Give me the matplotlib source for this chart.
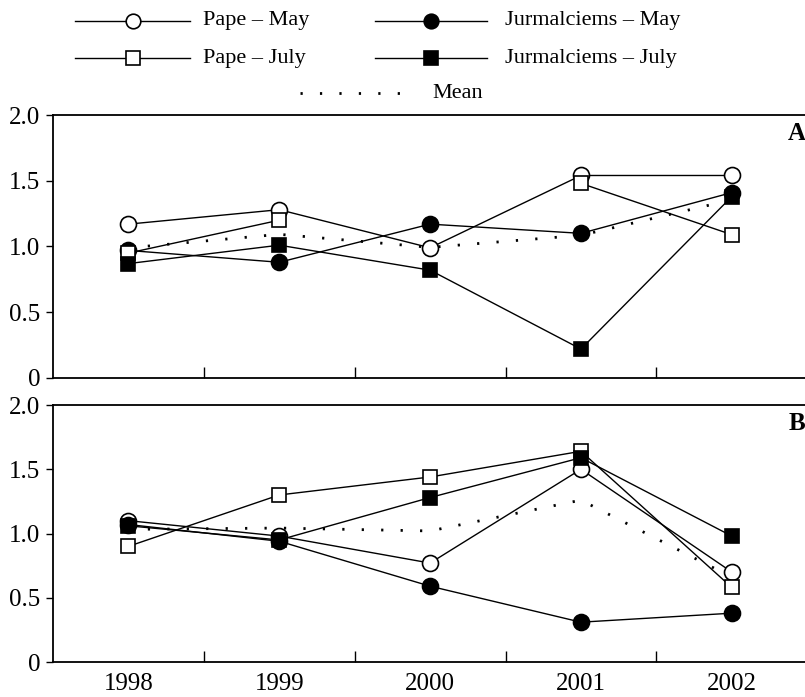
import numpy as np
import matplotlib.pyplot as plt

plt.rcParams['font.family'] = ['Liberation Serif', 'DejaVu Serif']

years = ['1998', '1999', '2000', '2001', '2002']

# panel A
pape_may_a = [1.17, 1.28, 0.99, 1.54, 1.54]
pape_july_a = [0.95, 1.20, np.nan, 1.48, 1.09]
jurm_may_a = [0.97, 0.88, 1.17, 1.10, 1.41]
jurm_july_a = [0.87, 1.01, 0.82, 0.22, 1.38]

# panel B
pape_may_b = [1.10, 0.98, 0.77, 1.50, 0.70]
pape_july_b = [0.90, 1.30, 1.44, 1.64, 0.58]
jurm_may_b = [1.07, 0.94, 0.59, 0.31, 0.38]
jurm_july_b = [1.06, 0.95, 1.28, 1.59, 0.98]

labels = ['Pape – May', 'Jurmalciems – May', 'Pape – July', 'Jurmalciems – July']
markers = ['o', 'o', 's', 's']
faces = ['white', 'black', 'white', 'black']
sizes = [11.5, 11.5, 10.5, 10.5]

mean_style = dict(color='black', lw=2.0, linestyle=(0, (0.8, 6.2)))

fig = plt.figure(figsize=(8.05, 6.97), dpi=100)

# hand-built legend in pixel coordinates
leg = fig.add_axes([0, 0, 1, 1])
leg.set_xlim(0, 805)
leg.set_ylim(697, 0)
leg.axis('off')
rows = [21, 58, 21, 58]
cols = [(75, 190, 203), (75, 190, 203), (375, 487, 505), (375, 487, 505)]
order = [0, 2, 1, 3]
for i in range(4):
    x0, x1, xt = cols[order[i]]
    y = rows[order[i]]
    leg.plot([x0, x1], [y, y], color='black', lw=1.0)
    leg.plot([(x0 + x1) / 2], [y], marker=markers[i], ms=sizes[i] - 1,
             mfc=faces[i], mec='black', mew=1.2, color='black')
    leg.text(xt, y, labels[i], fontsize=16, va='center', ha='left')
leg.plot([300, 400], [93, 93], **mean_style)
leg.text(432, 93, 'Mean', fontsize=16, va='center', ha='left')

ax_a = fig.add_axes([0.0658, 0.4577, 0.937, 0.3773])
ax_b = fig.add_axes([0.0658, 0.0502, 0.937, 0.3687])

panels = [
    (ax_a, [pape_may_a, jurm_may_a, pape_july_a, jurm_july_a], 'A'),
    (ax_b, [pape_may_b, jurm_may_b, pape_july_b, jurm_july_b], 'B'),
]

x = np.arange(len(years))
for ax, series, tag in panels:
    mean = np.nanmean(np.array(series, dtype=float), axis=0)
    ax.plot(x, mean, zorder=1, **mean_style)
    for i, vals in enumerate(series):
        ax.plot(x, vals, color='black', lw=1.0, marker=markers[i],
                ms=sizes[i], mfc=faces[i], mec='black', mew=1.2, zorder=2 + i)
    ax.set_xlim(-0.5, 4.5)
    ax.set_ylim(0, 2.0)
    ax.set_yticks([0, 0.5, 1.0, 1.5, 2.0])
    ax.set_yticklabels(['0', '0.5', '1.0', '1.5', '2.0'])
    ax.set_xticks(x)
    ax.set_xticks(x[:-1] + 0.5, minor=True)
    ax.tick_params(axis='x', which='major', length=0, labelsize=18, pad=8)
    ax.tick_params(axis='x', which='minor', direction='in', length=8, width=1.0)
    ax.tick_params(axis='y', direction='out', length=5, width=1.0, labelsize=18, pad=4)
    ax.spines['right'].set_visible(False)
    for s in ['left', 'top', 'bottom']:
        ax.spines[s].set_linewidth(1.3)
    ax.text(0.998, 0.93, tag, transform=ax.transAxes, ha='right', va='center',
            fontsize=18, fontweight='bold')

ax_a.set_xticklabels([])
ax_b.set_xticklabels(years)

fig.savefig('out.png', dpi=100)
